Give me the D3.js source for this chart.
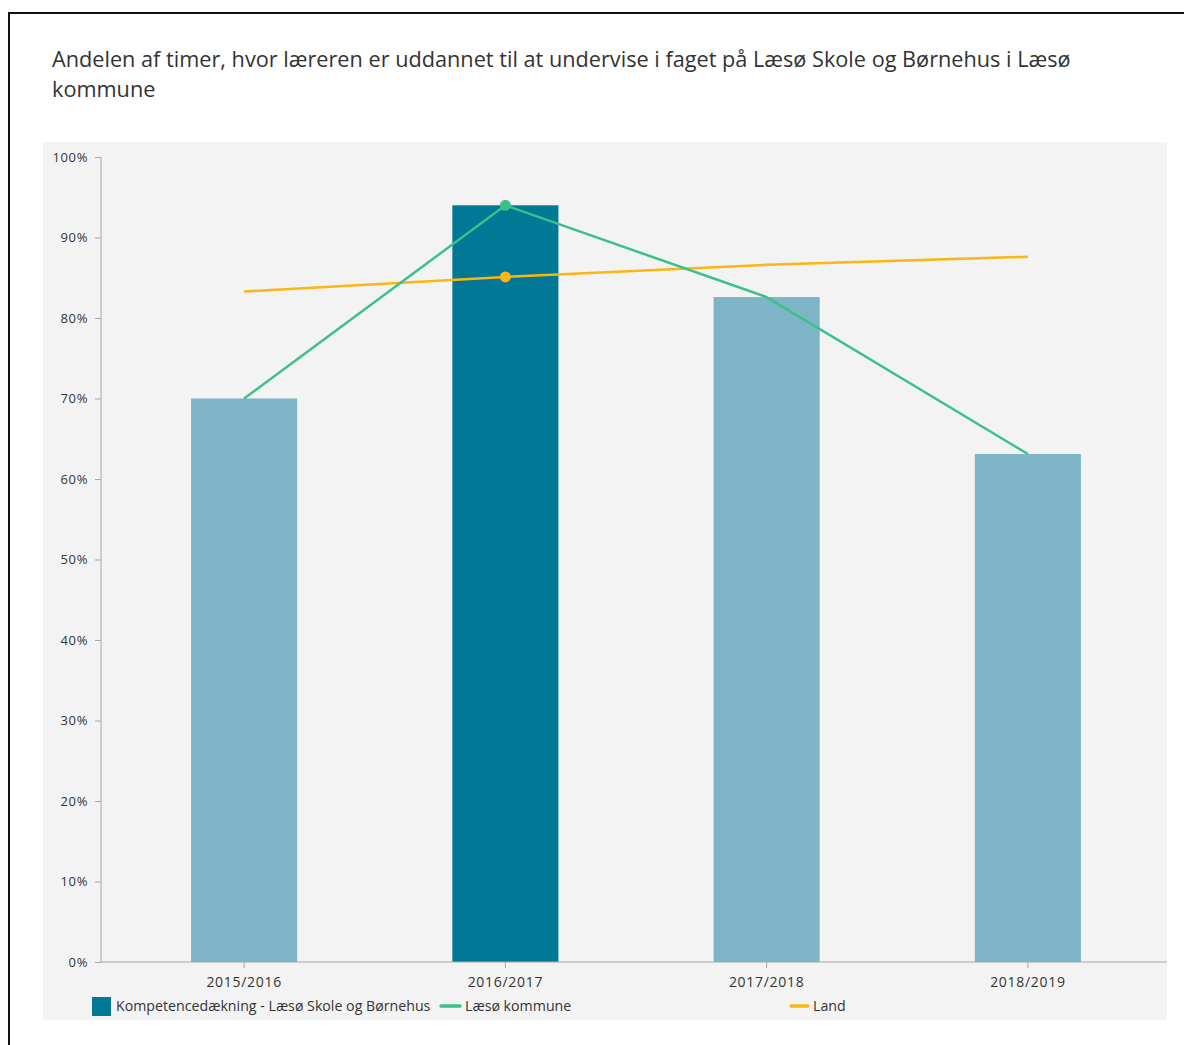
<!DOCTYPE html>
<html><head><meta charset="utf-8">
<script src="https://cdn.jsdelivr.net/npm/d3@7"></script>
<style>
html,body{margin:0;padding:0;background:#fff;}
svg{display:block;font-family:"Open Sans","Noto Sans",sans-serif;}
</style></head>
<body><svg id="c" width="1184" height="1045"></svg>
<script>
const categories = ["2015/2016","2016/2017","2017/2018","2018/2019"];
const barValues = [70.0, 94.0, 82.6, 63.1];
const kommuneValues = [70.0, 94.0, 82.6, 63.1];
const landValues = [83.3, 85.1, 86.6, 87.6];
const yTicks = [0,10,20,30,40,50,60,70,80,90,100];
const highlightIndex = 1;
const titleLines = ["Andelen af timer, hvor læreren er uddannet til at undervise i faget på Læsø Skole og Børnehus i Læsø","kommune"];
const legendLabels = ["Kompetencedækning - Læsø Skole og Børnehus","Læsø kommune","Land"];

const svg = d3.select("#c");
// frame
svg.append("path").attr("d","M9,1045V13H1184").attr("fill","none").attr("stroke","#111").attr("stroke-width",2);
// title
const t = svg.append("text").attr("x",52).attr("fill","#333").attr("font-size",21.7);
titleLines.forEach((l,i)=>t.append("tspan").attr("x",52).attr("y",67+i*30).text(l));
// plot bg
svg.append("rect").attr("x",43).attr("y",142).attr("width",1124).attr("height",878).attr("fill","#f3f3f3");

const x = d3.scaleBand().domain(categories).range([113.5,1158.5]).paddingInner(0.594).paddingOuter(0.297);
const xc = d => x(d)+x.bandwidth()/2;
const y = d3.scaleLinear().domain([0,100]).range([962,157]);

// bars
svg.append("g").selectAll("rect").data(categories).join("rect")
  .attr("x",d=>x(d)).attr("width",x.bandwidth())
  .attr("y",(d,i)=>y(barValues[i])).attr("height",(d,i)=>y(0)-y(barValues[i]))
  .attr("fill",(d,i)=>i===highlightIndex?"#007896":"#7db5c6");

// axes
const yAxis = svg.append("g").attr("transform","translate(101,0)")
  .call(d3.axisLeft(y).tickValues(yTicks).tickFormat(d=>d+"%").tickSize(6).tickPadding(7));
yAxis.select(".domain").attr("stroke","#a8a8a8").attr("d","M0,"+y(100)+"V"+y(0));
yAxis.selectAll(".tick line").attr("stroke","#a8a8a8");
yAxis.selectAll("text").attr("fill","#333").attr("font-size",13).attr("letter-spacing","0.6px").attr("font-family","\"Open Sans\",sans-serif");

const xAxis = svg.append("g").attr("transform","translate(0,962)")
  .call(d3.axisBottom(x).tickSize(6).tickPadding(9));
xAxis.select(".domain").attr("stroke","#a8a8a8").attr("d","M101,0H1167");
xAxis.selectAll(".tick line").attr("stroke","#a8a8a8");
xAxis.selectAll("text").attr("fill","#333").attr("font-size",14).attr("letter-spacing","0.7px").attr("font-family","\"Open Sans\",sans-serif");

// lines
const line = d3.line().x((d,i)=>xc(categories[i])).y(d=>y(d));
svg.append("path").datum(landValues).attr("d",line).attr("fill","none").attr("stroke","#fbb613").attr("stroke-width",2.5);
svg.append("path").datum(kommuneValues).attr("d",line).attr("fill","none").attr("stroke","#3cc08a").attr("stroke-width",2.5);
svg.append("circle").attr("cx",xc(categories[highlightIndex])).attr("cy",y(kommuneValues[highlightIndex])).attr("r",5.5).attr("fill","#3cc08a");
svg.append("circle").attr("cx",xc(categories[highlightIndex])).attr("cy",y(landValues[highlightIndex])).attr("r",5.5).attr("fill","#fbb613");

// legend
const lg = svg.append("g").attr("font-size",14.2).attr("fill","#333");
lg.append("rect").attr("x",92).attr("y",997).attr("width",19).attr("height",19).attr("fill","#007896");
lg.append("text").attr("x",116).attr("y",1011).text(legendLabels[0]);
lg.append("line").attr("x1",441).attr("x2",460).attr("y1",1006).attr("y2",1006).attr("stroke","#3cc08a").attr("stroke-width",3.5).attr("stroke-linecap","round");
lg.append("text").attr("x",465).attr("y",1011).text(legendLabels[1]);
lg.append("line").attr("x1",791).attr("x2",808).attr("y1",1006).attr("y2",1006).attr("stroke","#fbb613").attr("stroke-width",3.5).attr("stroke-linecap","round");
lg.append("text").attr("x",813).attr("y",1011).text(legendLabels[2]);
</script></body></html>
